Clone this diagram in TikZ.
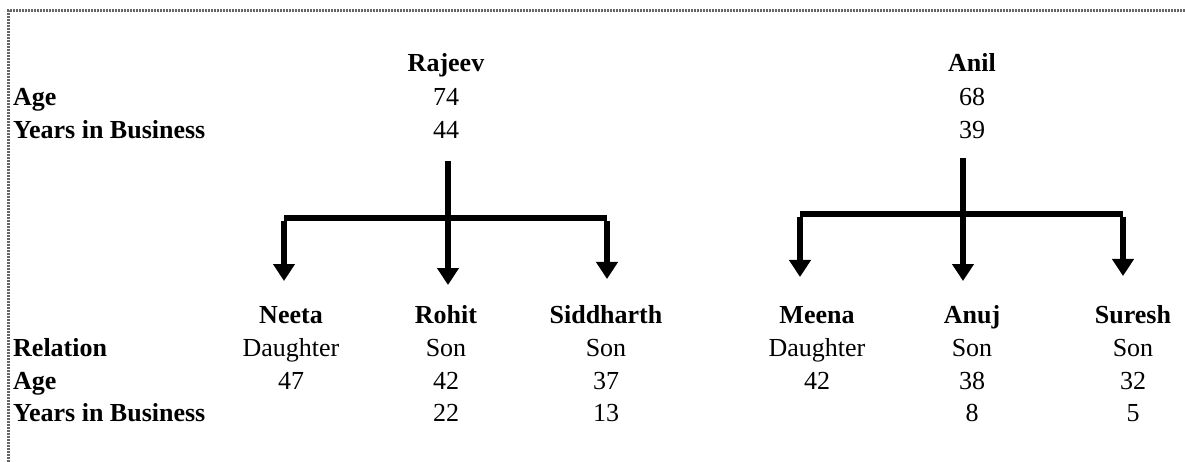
\documentclass[tikz,border=0pt]{standalone}
\usepackage{fontspec}
\setmainfont{Liberation Serif}
\usetikzlibrary{arrows.meta,positioning}

\tikzset{
  txt/.style={inner sep=0pt, font=\fontsize{26}{30}\selectfont, text height=18pt, text depth=5pt},
  person/.style={txt, font=\fontsize{26}{30}\selectfont\bfseries},
  rowlab/.style={person, anchor=west},
  branch/.style={line width=5.5pt},
  downarr/.style={branch, -{Triangle[width=21pt,length=17pt]}},
  pageedge/.style={line width=3pt, black!60, dash pattern=on 2pt off 1pt}
}

\begin{document}
\begin{tikzpicture}[x=1pt,y=-1pt]
\useasboundingbox (0,0) rectangle (1185,462);
\coordinate (fl) at (8,462);
\coordinate (fc) at (8,11);
\coordinate (fr) at (1185,11);
\draw[pageedge] (fl) -- (fc) -- (fr);

% row labels
\node[rowlab] (agetop) at (13,99) {Age};
\node[rowlab] (yrstop) at (13,132) {Years in Business};
\node[rowlab] (relbot) at (13,350) {Relation};
\node[rowlab] (agebot) at (13,383) {Age};
\node[rowlab] (yrsbot) at (13,415) {Years in Business};

% parents
\node[person] (rajeev) at (446,65) {Rajeev};
\node[txt] (rajeevage) at (446,99) {74};
\node[txt] (rajeevyrs) at (446,132) {44};
\node[person] (anil) at (972,65) {Anil};
\node[txt] (anilage) at (972,99) {68};
\node[txt] (anilyrs) at (972,132) {39};

% children
\foreach \nm/\x/\rel/\age/\yrs in {neeta/291/Daughter/47/, rohit/446/Son/42/22,
    siddharth/606/Son/37/13, meena/817/Daughter/42/, anuj/972/Son/38/8, suresh/1133/Son/32/5}{
  \node[txt] (\nm rel) at (\x,350) {\rel};
  \node[txt] (\nm age) at (\x,383) {\age};
  \node[txt] (\nm yrs) at (\x,415) {\yrs};
}
\node[person] (neeta) at (291,317) {Neeta};
\node[person] (rohit) at (446,317) {Rohit};
\node[person] (siddharth) at (606,317) {Siddharth};
\node[person] (meena) at (817,317) {Meena};
\node[person] (anuj) at (972,317) {Anuj};
\node[person] (suresh) at (1133,317) {Suresh};

% left tree
\coordinate (rtop) at (448,161);
\coordinate (rl) at (284,218);
\coordinate (rr) at (607,218);
\coordinate (neetatip) at (284,281);
\coordinate (rohittip) at (448,285);
\coordinate (siddharthtip) at (607,279);
\draw[branch] (rl) -- (rr);
\draw[downarr] (rtop) -- (rohittip);
\draw[downarr] ([yshift=-2.7pt]rl) -- (neetatip);
\draw[downarr] ([yshift=-2.7pt]rr) -- (siddharthtip);

% right tree
\coordinate (atop) at (963,158);
\coordinate (al) at (800,214);
\coordinate (ar) at (1123,214);
\coordinate (meenatip) at (800,277);
\coordinate (anujtip) at (963,281);
\coordinate (sureshtip) at (1123,276);
\draw[branch] (al) -- (ar);
\draw[downarr] (atop) -- (anujtip);
\draw[downarr] ([yshift=-2.7pt]al) -- (meenatip);
\draw[downarr] ([yshift=-2.7pt]ar) -- (sureshtip);
\end{tikzpicture}
\end{document}
